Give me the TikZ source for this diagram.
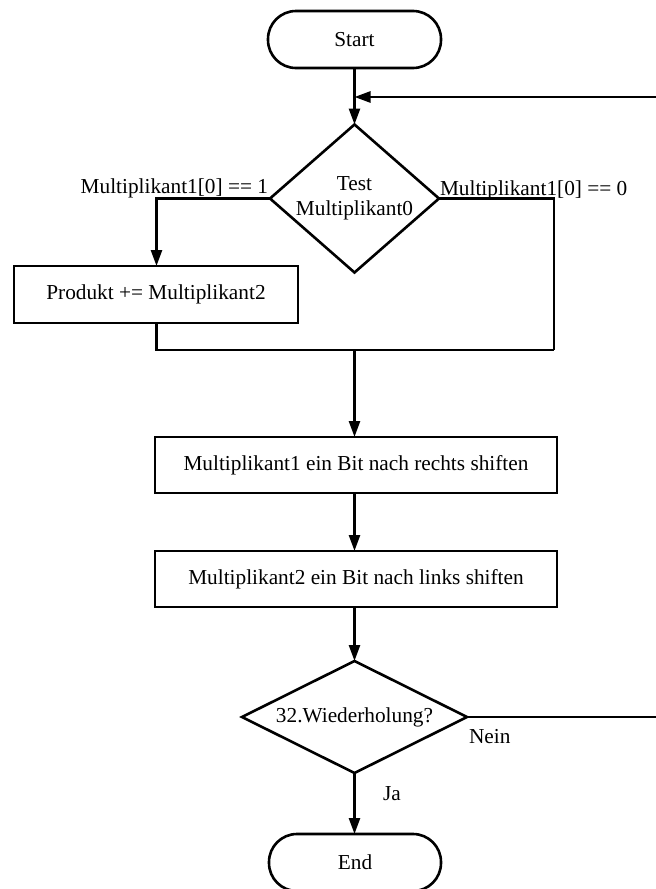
\documentclass[tikz,border=0pt]{standalone}
\usepackage{fontspec}
\setmainfont{Liberation Serif}
\usetikzlibrary{shapes.geometric,arrows.meta}
\tikzset{
  every node/.style={font=\fontsize{21.3}{25}\selectfont, inner sep=0pt, outer sep=0pt},
  line/.style={line width=2.6pt, line join=miter},
  arr/.style={line, -{Triangle[length=16pt,width=11pt]}},
  term/.style={line, draw, rectangle, rounded corners=28pt, minimum width=173pt, minimum height=57pt},
  proc/.style={line, draw, rectangle, minimum height=56pt},
  dec/.style={line, draw, diamond, align=center},
  lbl/.style={inner sep=0pt}
}
\begin{document}
\begin{tikzpicture}[x=1pt,y=-1pt]
\clip (0,0) rectangle (656,889);
\fill[white] (0,0) rectangle (656,889);

\node[term] (start) at (354.5,39.5) {Start};
\node[dec, minimum width=169pt, minimum height=148pt, aspect=1.14] (d1) at (354.5,198.5) {Test\\Multiplikant0};
\node[proc, minimum width=284pt, minimum height=57pt] (b1) at (156,294.5) {Produkt += Multiplikant2};
\node[proc, minimum width=402pt] (b2) at (356,465) {Multiplikant1 ein Bit nach rechts shiften};
\node[proc, minimum width=402pt] (b3) at (356,579) {Multiplikant2 ein Bit nach links shiften};
\node[dec, minimum width=225pt, minimum height=112pt, aspect=2] (d2) at (354.5,717) {32.Wiederholung?};
\node[term, minimum width=172pt] (end) at (355,862.5) {End};

\node[lbl, anchor=base east] (l1) at (268,193) {Multiplikant1[0] == 1};
\node[lbl, anchor=base west] (l0) at (440,195) {Multiplikant1[0] == 0};
\node[lbl, anchor=base west] (nein) at (469,743) {Nein};
\node[lbl, anchor=base west] (ja) at (383,800) {Ja};

\coordinate (lb) at (156.5,198.5);
\coordinate (rb) at (554,198.5);
\coordinate (m) at (354.5,350);
\coordinate (mr) at (554,350);
\coordinate (rt) at (720,717);
\coordinate (rtop) at (720,97);
\coordinate (li) at (354.5,97);

\draw[arr] (start.south) -- (d1.north);
\draw[arr] (d1.west) -- (lb) -- (b1.north -| lb);
\draw[line] (d1.east) -- (rb) -- (mr);
\draw[line] (b1.south -| lb) -- (lb |- m) -- (mr);
\draw[arr] (m) -- (b2.north -| m);
\draw[arr] (b2.south -| m) -- (b3.north -| m);
\draw[arr] (b3.south -| m) -- (d2.north);
\draw[arr] (d2.south) -- (end.north -| d2.south);
\draw[arr] (d2.east) -- (rt) -- (rtop) -- (li);
\end{tikzpicture}
\end{document}
